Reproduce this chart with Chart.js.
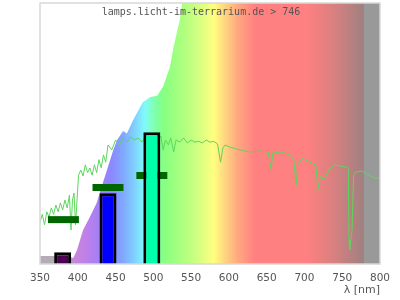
<!DOCTYPE html>
<html>
<head>
<meta charset="utf-8">
<script src="https://cdn.jsdelivr.net/npm/chart.js@4/dist/chart.umd.min.js"></script>
<style>
  html, body { margin: 0; padding: 0; background: #fff; }
  #wrap { width: 400px; height: 300px; }
</style>
</head>
<body>
<div id="wrap"><canvas id="spectrum" width="400" height="300"></canvas></div>
<script>
// envelope of the coloured background (wavelength nm / relative value 0..100)
const envWl  = [350, 385, 390, 394, 399, 403, 407, 416, 425, 429, 447, 452, 460, 465, 473, 486, 496, 505, 513, 522, 526, 531, 535, 538, 800];
const envVal = [3.1, 3.1, 2.6, 2.3, 5.4, 9.2, 13, 18, 23.4, 27.2, 43.7, 47.5, 51, 50, 55, 62, 64, 64.5, 68, 75.5, 82, 88.5, 93.5, 100, 100];

// lamp spectrum (green line)
const lampWl  = [350, 353, 356, 359, 362, 365, 368, 371, 374, 377, 380, 383, 386, 389, 391, 393, 395, 397, 399, 401,
                 404, 407, 410, 413, 416, 419, 422, 425, 428, 431, 434, 437, 440, 445, 450, 455, 460, 465, 470, 475,
                 480, 485, 490, 495, 500, 505, 510, 513, 516, 520, 523, 527, 530, 535, 540, 545, 550, 555, 560, 565,
                 570, 575, 580, 585, 589, 592, 595, 601, 615, 628, 641, 652, 656, 658, 668, 681, 686, 689, 691, 697,
                 707, 715, 718, 721, 725, 729, 734, 740, 754, 758, 759, 760, 763, 765, 768, 776, 787, 793, 800];
const lampVal = [16, 19, 15, 20, 18, 21.5, 19, 22.6, 20, 23.4, 20.7, 24.5, 21.5, 26.4, 13, 24.5, 27.2, 15, 24.5, 34,
                 36, 33.7, 38, 35, 36.8, 34, 38, 35, 40, 36.8, 41.8, 39, 45.6, 43.7, 47.5, 45.6, 48.3, 46.7, 48.7, 47.5,
                 48.3, 46.7, 49, 47.5, 47.9, 47, 49, 43.7, 47.5, 45.6, 48.3, 43, 47.5, 46.7, 48.3, 46.4, 47.5, 46.7, 47, 46.4,
                 47.5, 46.7, 47, 46, 39, 44.4, 45.6, 44.8, 43.7, 42.9, 43.3, 42.9, 36, 42.5, 42.9, 41.8, 39.8, 30.3, 37.9, 40.6,
                 39, 37.9, 28.4, 34, 32.2, 34, 36.8, 37.9, 37.2, 36.8, 9.2, 5.4, 13, 34, 35.2, 35.6, 33.7, 33, 33];

// peak bars
const peakWl  = [380, 440, 498];
const peakVal = [4.5, 27.1, 50.5];
const peakColors = ['#4d0050', '#0000ff', '#00ffaa'];

// dark green band markers
const bandFrom  = [360.5, 419.5, 477.5];
const bandTo    = [401.5, 460.5, 518.5];
const bandLevel = [17, 29.3, 33.9];

// colour stops of the background spectrum
const stopWl  = [350, 388, 392, 410, 430, 445, 460, 475, 488, 495, 505, 515, 530, 550, 565, 580, 595, 612, 635, 703, 740, 778, 779.5, 800];
const stopCol = ['#b4acb4', '#b4acb4', '#c68ad8', '#c080e8', '#a080f8', '#8c88ff', '#80a8ff', '#80d0ff', '#80f8ff', '#80ffd0', '#80ffa0', '#88ff80',
                 '#a0ff80', '#c0ff80', '#e0ff80', '#ffff80', '#ffd480', '#ffa880', '#ff8080', '#ff8080', '#d88080', '#a08080', '#999999', '#999999'];

const xy = (xs, ys) => xs.map((x, i) => ({ x: x, y: ys[i] }));

const spectrumFill = function (ctx) {
    const chart = ctx.chart;
    const area = chart.chartArea;
    if (!area) return null;
    const xs = chart.scales.x;
    const g = chart.ctx.createLinearGradient(area.left, 0, area.right, 0);
    stopWl.forEach((wl, i) => {
        const off = (xs.getPixelForValue(wl) - area.left) / (area.right - area.left);
        g.addColorStop(Math.min(1, Math.max(0, off)), stopCol[i]);
    });
    return g;
};

const frame = {
    id: 'frame',
    afterDraw(chart) {
        const c = chart.ctx, a = chart.chartArea;
        c.save();
        c.strokeStyle = '#d8d8d8';
        c.lineWidth = 1.5;
        c.strokeRect(a.left, a.top, a.right - a.left, a.bottom - a.top);
        c.fillStyle = '#555';
        c.font = '10px "DejaVu Sans Mono"';
        c.textAlign = 'center';
        c.textBaseline = 'alphabetic';
        c.fillText('lamps.licht-im-terrarium.de > 746', 201, 15);
        c.restore();
    }
};

const bandSets = bandLevel.map((lvl, i) => ({
    type: 'line',
    data: [{ x: bandFrom[i], y: lvl }, { x: bandTo[i], y: lvl }],
    borderColor: '#006600',
    borderWidth: 7,
    borderCapStyle: 'butt',
    pointRadius: 0,
    fill: false
}));

new Chart(document.getElementById('spectrum'), {
    data: {
        datasets: [
            {
                type: 'bar',
                data: xy(peakWl, peakVal),
                backgroundColor: peakColors,
                borderColor: '#000',
                borderWidth: 3,
                barPercentage: 0.45,
                categoryPercentage: 1
            },
            ...bandSets,
            {
                type: 'line',
                data: xy(lampWl, lampVal),
                borderColor: '#5cd65c',
                borderWidth: 1,
                pointRadius: 0,
                tension: 0,
                fill: false
            },
            {
                type: 'line',
                data: xy(envWl, envVal),
                borderWidth: 0,
                borderColor: 'rgba(0,0,0,0)',
                pointRadius: 0,
                tension: 0,
                fill: 'origin',
                backgroundColor: spectrumFill
            }
        ]
    },
    options: {
        responsive: false,
        animation: false,
        layout: { padding: { left: 40, right: 20, top: 3, bottom: 0 } },
        plugins: {
            legend: { display: false },
            tooltip: { enabled: false }
        },
        scales: {
            x: {
                type: 'linear',
                min: 350,
                max: 800,
                offset: false,
                grid: { display: false, drawTicks: false, offset: false },
                border: { display: false },
                ticks: {
                    stepSize: 50,
                    padding: 8,
                    color: '#555',
                    font: { family: 'DejaVu Sans', size: 10.5 }
                },
                title: {
                    display: true,
                    text: 'λ [nm]',
                    align: 'end',
                    color: '#555',
                    font: { family: 'DejaVu Sans', size: 11 },
                    padding: { top: 0, bottom: 3 }
                },
                afterFit: function (scale) { scale.height = 36; }
            },
            y: {
                display: false,
                min: 0,
                max: 100
            }
        }
    },
    plugins: [frame]
});
</script>
</body>
</html>
